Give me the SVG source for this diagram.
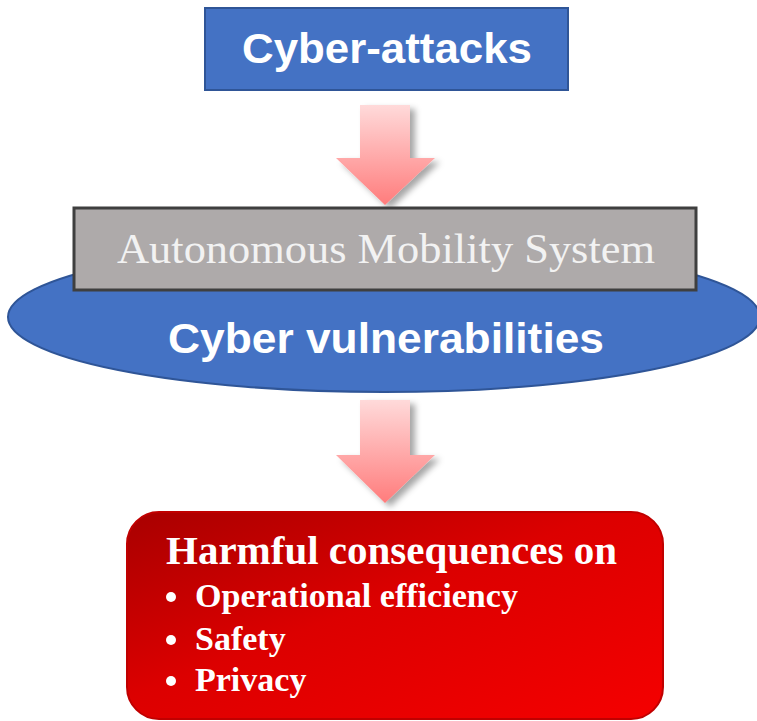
<svg xmlns="http://www.w3.org/2000/svg" width="757" height="721" viewBox="0 0 757 721">
<defs>
<linearGradient id="arrowGrad" x1="0" y1="0" x2="0" y2="1">
<stop offset="0" stop-color="#FFDADA"/>
<stop offset="1" stop-color="#FF7C7C"/>
</linearGradient>
<linearGradient id="redGrad" x1="0" y1="0" x2="1" y2="1">
<stop offset="0" stop-color="#A80000"/>
<stop offset="0.45" stop-color="#DC0000"/>
<stop offset="1" stop-color="#F50000"/>
</linearGradient>
<filter id="shadow" x="-30%" y="-30%" width="160%" height="160%">
<feDropShadow dx="5" dy="4" stdDeviation="3" flood-color="#000000" flood-opacity="0.35"/>
</filter>
</defs>
<style>
.sans{font-family:"Liberation Sans",Arial,sans-serif;font-weight:bold;fill:#FFFFFF;}
.serif{font-family:"Liberation Serif","Times New Roman",serif;}
.bold{font-weight:bold;fill:#FFFFFF;}
.arrow{fill:url(#arrowGrad);filter:url(#shadow);}
</style>
<rect width="757" height="721" fill="#FFFFFF"/>
<g id="connectors">
<path class="arrow" d="M360,105 H410 V158 H435 L385,205 L336,158 H360 Z"/>
<path class="arrow" d="M360,400 H410 V455 H435 L385,503 L336,455 H360 Z"/>
</g>
<g id="cyber-attacks">
<rect x="205" y="8" width="363" height="82" fill="#4472C4" stroke="#2F5597" stroke-width="2"/>
<text class="sans" x="387" y="63" font-size="42" text-anchor="middle" textLength="290" lengthAdjust="spacingAndGlyphs">Cyber-attacks</text>
</g>
<g id="cyber-vulnerabilities">
<ellipse cx="384" cy="317" rx="376" ry="75" fill="#4472C4" stroke="#2F5597" stroke-width="2"/>
<text class="sans" x="386" y="353" font-size="42" text-anchor="middle" textLength="436" lengthAdjust="spacingAndGlyphs">Cyber vulnerabilities</text>
</g>
<g id="autonomous-mobility-system">
<rect x="74" y="208" width="622" height="82" fill="#AEAAAA" stroke="#3F3F3F" stroke-width="3"/>
<text class="serif" x="386" y="263" font-size="42" fill="#F2F2F2" text-anchor="middle" textLength="538" lengthAdjust="spacingAndGlyphs">Autonomous Mobility System</text>
</g>
<g id="harmful-consequences">
<rect x="127" y="512" width="536" height="207" rx="32" ry="32" fill="url(#redGrad)" stroke="#C00000" stroke-width="2"/>
<text class="serif bold" x="166" y="564" font-size="41" textLength="451" lengthAdjust="spacingAndGlyphs">Harmful consequences on</text>
<g class="serif bold" font-size="34">
<circle cx="171" cy="597" r="5" fill="#FFFFFF"/>
<text x="195" y="607" textLength="323" lengthAdjust="spacingAndGlyphs">Operational efficiency</text>
<circle cx="171" cy="640" r="5" fill="#FFFFFF"/>
<text x="195" y="650">Safety</text>
<circle cx="171" cy="681" r="5" fill="#FFFFFF"/>
<text x="195" y="691">Privacy</text>
</g>
</g>
</svg>
